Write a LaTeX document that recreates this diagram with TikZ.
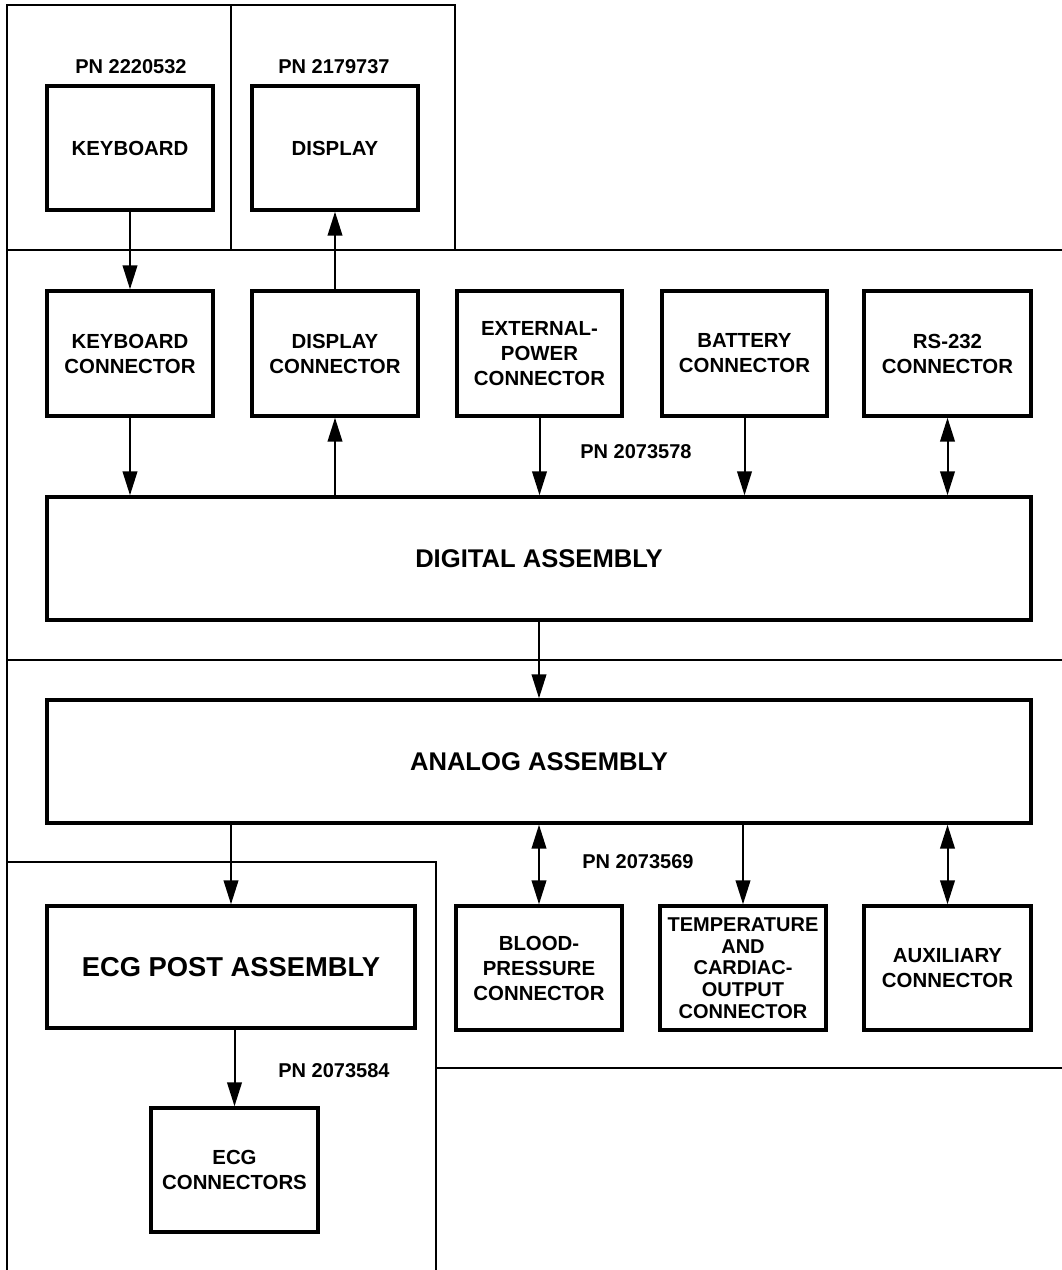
\documentclass[tikz,border=0pt]{standalone}
\usepackage{fontspec}
\setmainfont{Liberation Sans}
\usetikzlibrary{arrows.meta}
\begin{document}
\begin{tikzpicture}[x=0.75pt,y=-0.75pt,
  blk/.style={draw, line width=2.6pt, inner sep=0pt, align=center,
    font=\bfseries\fontsize{15.3}{18.75}\selectfont},
  big/.style={font=\bfseries\fontsize{19.2}{22}\selectfont},
  pnlab/.style={inner sep=0pt, font=\bfseries\fontsize{15}{17}\selectfont},
  frame/.style={line width=1pt},
  arr/.style={line width=1.5pt, -{Triangle[length=18pt,width=11pt]}},
  dbl/.style={line width=1.5pt, {Triangle[length=18pt,width=11pt]}-{Triangle[length=18pt,width=11pt]}},
  sbox/.style={blk, minimum width=166*0.75pt, minimum height=124*0.75pt}
]
\useasboundingbox (0,0) rectangle (1062,1270);
% frames
\draw[frame] (7,250) -- (7,5) -- (455,5) -- (455,250);
\draw[frame] (231,5) -- (231,250);
\draw[frame] (7,250) -- (1062,250);
\draw[frame] (7,250) -- (7,1270);
\draw[frame] (7,660) -- (1062,660);
\draw[frame] (7,862) -- (436,862) -- (436,1270);
\draw[frame] (436,1068) -- (1062,1068);
% part numbers
\node[pnlab] (pn1) at (131,67) {PN 2220532};
\node[pnlab] (pn2) at (334,67) {PN 2179737};
\node[pnlab] (pn3) at (636,452) {PN 2073578};
\node[pnlab] (pn4) at (638,862) {PN 2073569};
\node[pnlab] (pn5) at (334,1071) {PN 2073584};
% boxes
\node[sbox] (kb) at (130,148) {KEYBOARD};
\node[sbox] (disp) at (335,148) {DISPLAY};
\node[sbox, minimum height=125*0.75pt] (kbc) at (130,353.5) {KEYBOARD\\CONNECTOR};
\node[sbox, minimum height=125*0.75pt] (dispc) at (335,353.5) {DISPLAY\\CONNECTOR};
\node[sbox, minimum height=125*0.75pt, minimum width=165*0.75pt] (ext) at (539.5,353.5) {EXTERNAL-\\POWER\\CONNECTOR};
\node[sbox, minimum height=125*0.75pt, minimum width=165*0.75pt] (bat) at (744.5,353.5) {BATTERY\\CONNECTOR};
\node[sbox, minimum height=125*0.75pt, minimum width=167*0.75pt] (rs) at (947.5,353.5) {RS-232\\CONNECTOR};
\node[blk, big, minimum width=984*0.75pt, minimum height=123*0.75pt] (dig) at (539,558.5) {DIGITAL ASSEMBLY};
\node[blk, big, minimum width=984*0.75pt, minimum height=123*0.75pt] (ana) at (539,761.5) {ANALOG ASSEMBLY};
\node[blk, font=\bfseries\fontsize{20.5}{24}\selectfont, minimum width=368*0.75pt, minimum height=122*0.75pt] (ecgp) at (231,967) {ECG POST ASSEMBLY};
\node[sbox] (bp) at (539,968) {BLOOD-\\PRESSURE\\CONNECTOR};
\node[sbox, font=\bfseries\fontsize{15}{16.3}\selectfont] (temp) at (743,968) {TEMPERATURE\\AND\\CARDIAC-\\OUTPUT\\CONNECTOR};
\node[sbox, minimum width=167*0.75pt] (aux) at (947.5,968) {AUXILIARY\\CONNECTOR};
\node[sbox, minimum width=167*0.75pt] (ecgc) at (234.5,1170) {ECG\\CONNECTORS};
% connectors
\draw[arr] (kb.south) -- (kbc.north);
\draw[arr] (dispc.north) -- (disp.south);
\draw[arr] (kbc.south) -- (kbc.south |- dig.north);
\draw[arr] (dispc.south |- dig.north) -- (dispc.south);
\draw[arr] (ext.south) -- (ext.south |- dig.north);
\draw[arr] (bat.south) -- (bat.south |- dig.north);
\draw[dbl] (rs.south) -- (rs.south |- dig.north);
\draw[arr] (dig.south) -- (ana.north);
\draw[arr] (ecgp.north |- ana.south) -- (ecgp.north);
\draw[dbl] (bp.north |- ana.south) -- (bp.north);
\draw[arr] (temp.north |- ana.south) -- (temp.north);
\draw[dbl] (aux.north |- ana.south) -- (aux.north);
\draw[arr] (ecgc.north |- ecgp.south) -- (ecgc.north);
\end{tikzpicture}
\end{document}
